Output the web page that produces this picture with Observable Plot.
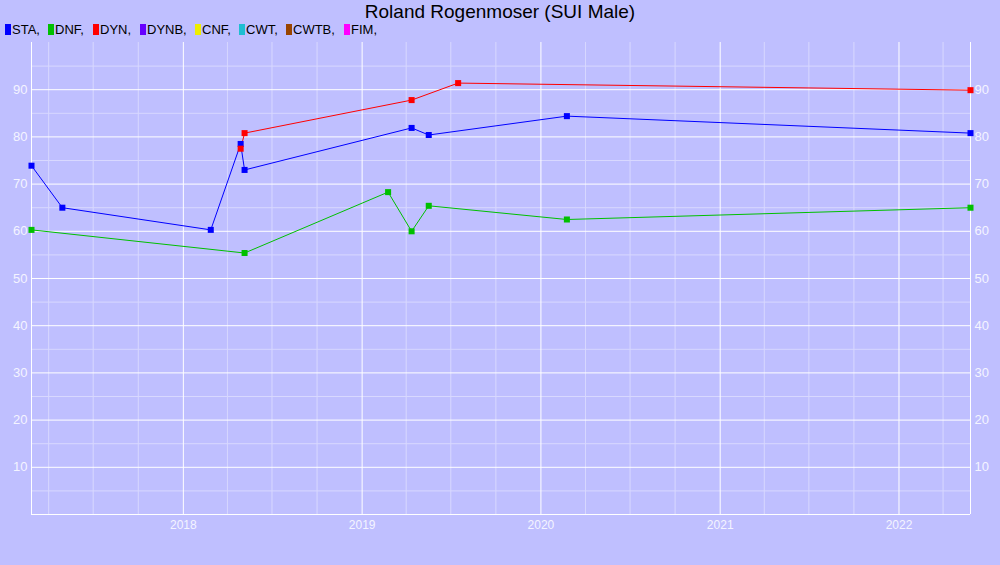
<!DOCTYPE html>
<html>
<head>
<meta charset="utf-8">
<script src="https://cdn.jsdelivr.net/npm/d3@7"></script>
<script src="https://cdn.jsdelivr.net/npm/@observablehq/plot@0.6"></script>
<style>
  html, body { margin: 0; padding: 0; background: #BFBFFF; width: 1000px; height: 565px; overflow: hidden; font-family: "Liberation Sans", Arial, sans-serif; }
  #title { height: 22px; line-height: 24px; text-align: center; font-size: 19px; color: #000; }
  #legend { height: 16px; line-height: 16px; font-size: 13px; color: #000; position: relative; }
  #legend span.item { position: absolute; top: 0; white-space: nowrap; }
  #legend span.sw { display: inline-block; width: 6px; height: 11px; margin-right: 1px; vertical-align: -1px; }
  #chart svg { display: block; }
</style>
</head>
<body>
<div id="title">Roland Rogenmoser (SUI Male)</div>
<div id="legend"></div>
<div id="chart"></div>
<script>
// ---- data ----
const legendNames = ["STA", "DNF", "DYN", "DYNB", "CNF", "CWT", "CWTB", "FIM"];
const legendColors = ["#0000FF", "#00C000", "#FF0000", "#6600FF", "#EEEE00", "#1EBED2", "#994400", "#FF00FF"];

const staDates = ["2017-02-25", "2017-04-29", "2018-02-26", "2018-04-28", "2018-05-06", "2019-04-12", "2019-05-17", "2020-02-23", "2022-05-27"];
const staValues = [73.9, 65.0, 60.3, 78.5, 73.0, 81.9, 80.4, 84.4, 80.8];

const dnfDates = ["2017-02-25", "2018-05-06", "2019-02-23", "2019-04-12", "2019-05-17", "2020-02-23", "2022-05-27"];
const dnfValues = [60.3, 55.4, 68.3, 60.0, 65.4, 62.5, 65.0];

const dynDates = ["2018-04-28", "2018-05-06", "2019-04-12", "2019-07-16", "2022-05-27"];
const dynValues = [77.5, 80.8, 87.8, 91.4, 89.9];

const yTicks = [10, 20, 30, 40, 50, 60, 70, 80, 90];
const xTickYears = [2018, 2019, 2020, 2021, 2022];

// ---- build ----
const series = [
  {name: "STA", dates: staDates, values: staValues},
  {name: "DNF", dates: dnfDates, values: dnfValues},
  {name: "DYN", dates: dynDates, values: dynValues}
];
const rows = series.flatMap(s => s.dates.map((d, i) => ({series: s.name, date: new Date(d + "T00:00:00Z"), value: s.values[i]})));
const colorOf = Object.fromEntries(legendNames.map((n, i) => [n, legendColors[i]]));

// legend
const legendPos = [5, 48, 93, 140, 195, 239, 286, 344];
const leg = document.getElementById("legend");
legendNames.forEach((n, i) => {
  const s = document.createElement("span");
  s.className = "item";
  s.style.left = legendPos[i] + "px";
  s.innerHTML = `<span class="sw" style="background:${legendColors[i]}"></span>${n},`;
  leg.appendChild(s);
});

const allDates = rows.map(r => r.date);
const x0 = d3.min(allDates), x1 = d3.max(allDates);
const yearDates = xTickYears.map(y => new Date(Date.UTC(y, 0, 1)));
const quarterDates = d3.utcMonth.every(3).range(x0, x1).filter(d => d.getUTCMonth() !== 0);
const minorY = d3.range(5, 100, 10);
const minorColor = "#D8D8FF";

const chart = Plot.plot({
  width: 1000,
  height: 527,
  marginTop: 4,
  marginBottom: 51,
  marginLeft: 31,
  marginRight: 30,
  style: {background: "#BFBFFF", fontFamily: "Liberation Sans, Arial, sans-serif", fontSize: "13px"},
  x: {type: "utc", domain: [x0, x1]},
  y: {domain: [0, 100]},
  marks: [
    Plot.ruleY(minorY, {stroke: minorColor, strokeWidth: 1}),
    Plot.ruleX(quarterDates, {stroke: minorColor, strokeWidth: 1}),
    Plot.ruleY(yTicks, {stroke: "white", strokeWidth: 1}),
    Plot.ruleX(yearDates, {stroke: "white", strokeWidth: 1}),
    Plot.ruleX([x0, x1], {stroke: "white", strokeWidth: 1}),
    Plot.ruleY([0], {stroke: "white", strokeWidth: 1}),
    Plot.axisY(yTicks, {anchor: "left", tickSize: 0, tickPadding: 4, color: "#F4F4FF", label: null, fontSize: 13}),
    Plot.axisY(yTicks, {anchor: "right", tickSize: 0, tickPadding: 4, color: "#F4F4FF", label: null, fontSize: 13}),
    Plot.axisX(yearDates, {anchor: "bottom", tickSize: 0, tickPadding: 6, color: "#F4F4FF", label: null, tickFormat: d3.utcFormat("%Y"), fontSize: 12}),
    Plot.line(rows, {x: "date", y: "value", z: "series", stroke: d => colorOf[d.series], strokeWidth: 1}),
    Plot.dot(rows, {x: "date", y: "value", symbol: "square", r: 3.4, fill: d => colorOf[d.series], stroke: "none"})
  ]
});
document.getElementById("chart").appendChild(chart);
</script>
</body>
</html>
